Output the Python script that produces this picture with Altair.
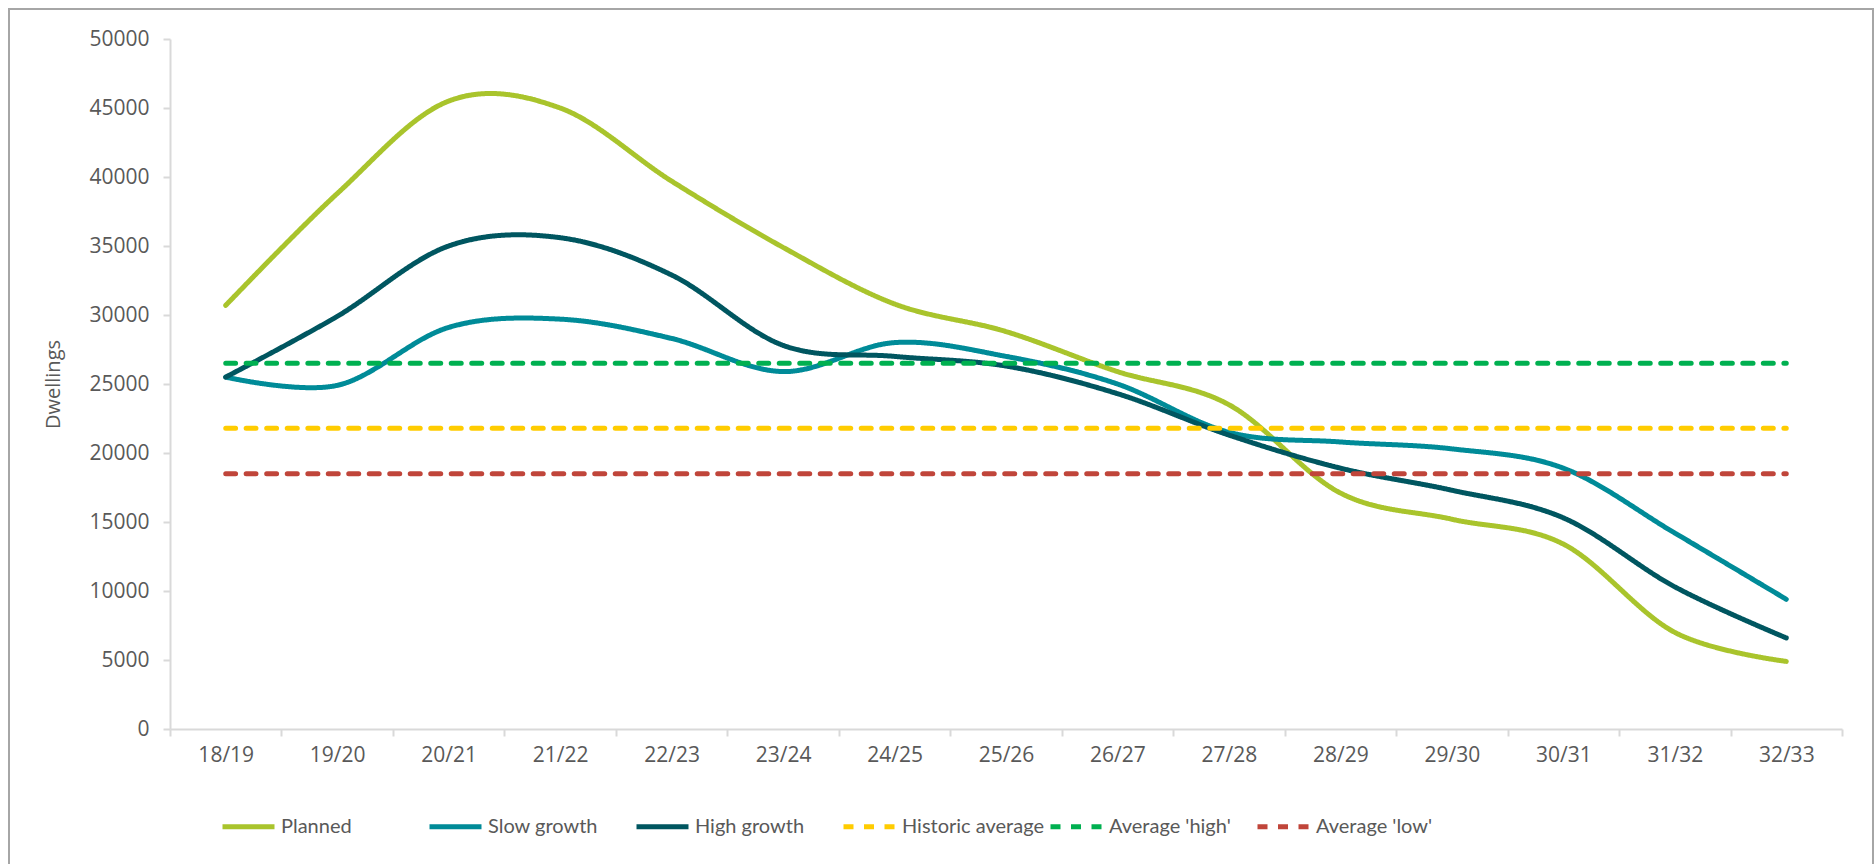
import altair as alt
import pandas as pd

# Financial years on the x axis
years = ["18/19", "19/20", "20/21", "21/22", "22/23", "23/24", "24/25", "25/26",
         "26/27", "27/28", "28/29", "29/30", "30/31", "31/32", "32/33"]

# Dwelling projections per scenario
planned = [30700, 38800, 45500, 45000, 39700, 34900, 30800, 28800,
           25900, 23500, 17100, 15200, 13400, 7000, 4900]
slow_growth = [25500, 24900, 29100, 29700, 28300, 25900, 28000, 27000,
               25000, 21500, 20800, 20300, 18900, 14200, 9400]
high_growth = [25500, 29900, 35000, 35600, 32900, 27800, 27000, 26300,
               24300, 21300, 18900, 17300, 15300, 10300, 6600]

# Reference levels
historic_average = 21800
average_high = 26500
average_low = 18500

series_names = ["Planned", "Slow growth", "High growth",
                "Historic average", "Average 'high'", "Average 'low'"]
series_colors = ["#a9c42c", "#008b98", "#005660", "#ffcc00", "#00b050", "#c0453a"]
series_dash = [[1, 0], [1, 0], [1, 0], [10, 10.5], [10, 10.5], [10, 10.5]]

series_values = {
    "Planned": planned,
    "Slow growth": slow_growth,
    "High growth": high_growth,
    "Historic average": [historic_average] * len(years),
    "Average 'high'": [average_high] * len(years),
    "Average 'low'": [average_low] * len(years),
}

rows = []
for name in series_names:
    for i, (yr, v) in enumerate(zip(years, series_values[name])):
        rows.append({"series": name, "year": yr, "pos": i + 0.5, "value": v})
df = pd.DataFrame(rows)

W, H = 1672, 690
n = len(years)
label_list = "[" + ",".join(f"'{y}'" for y in years) + "]"

axis_font = "Open Sans"
grey_text = "#595959"
axis_grey = "#d9d9d9"

x_enc = alt.X(
    "pos:Q",
    scale=alt.Scale(domain=[0, n], nice=False, zero=False),
    axis=alt.Axis(
        values=list(range(n + 1)),
        labelExpr=f"datum.value < {n} ? {label_list}[datum.value] : ''",
        labelOffset=W / n / 2,
        labelFont=axis_font, labelFontSize=21, labelColor=grey_text,
        labelPadding=8, tickSize=7, tickColor=axis_grey, tickWidth=2,
        domainColor=axis_grey, domainWidth=2, grid=False, title=None,
        labelFlush=False, labelOverlap=False,
    ),
)

y_enc = alt.Y(
    "value:Q",
    scale=alt.Scale(domain=[0, 50000], nice=False),
    axis=alt.Axis(
        values=list(range(0, 50001, 5000)),
        format="d",
        labelFont=axis_font, labelFontSize=21, labelColor=grey_text,
        labelPadding=14, tickSize=7, tickColor=axis_grey, tickWidth=2,
        domainColor=axis_grey, domainWidth=2, grid=False,
        title="Dwellings", titleFont=axis_font, titleFontSize=20,
        titleFontWeight="normal", titleColor=grey_text,
        titleX=-117, titleY=H / 2, titleAlign="center", titleBaseline="middle",
        titleAngle=270,
    ),
)

legend_opts = dict(
    title=None, orient="none", direction="horizontal", columns=6,
    legendX=50, legendY=759, gridAlign="all", columnPadding=-4,
    symbolType="stroke", symbolSize=2704, symbolStrokeWidth=5,
    labelFont="Lato", labelFontSize=20, labelColor=grey_text,
    labelOffset=4, labelLimit=400, padding=0,
)

lines = alt.Chart(df).mark_line(
    interpolate="cardinal", strokeWidth=5, strokeCap="round"
).encode(
    x=x_enc,
    y=y_enc,
    color=alt.Color(
        "series:N",
        scale=alt.Scale(domain=series_names, range=series_colors),
        sort=series_names,
        legend=alt.Legend(**legend_opts),
    ),
    strokeDash=alt.StrokeDash(
        "series:N",
        scale=alt.Scale(domain=series_names, range=series_dash),
        sort=series_names,
        legend=alt.Legend(**legend_opts),
    ),
    order=alt.Order("pos:Q"),
)

# Thin frame around the whole figure
frame = alt.Chart(pd.DataFrame({"f": [0]})).mark_rect(
    fillOpacity=0, stroke="#a6a6a6", strokeWidth=2
).encode(
    x=alt.value(-161), x2=alt.value(1703),
    y=alt.value(-30), y2=alt.value(860),
)

chart = alt.layer(frame, lines).properties(
    width=W, height=H,
    autosize=alt.AutoSizeParams(type="none"),
    padding={"left": 170, "top": 39, "right": 33, "bottom": 135},
    background="white",
).configure_view(stroke=None)

chart.save("out.html", embed_options={"renderer": "svg", "actions": False})
